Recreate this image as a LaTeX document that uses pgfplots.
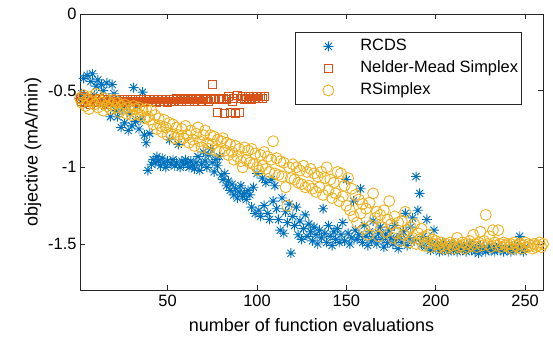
\documentclass[border=0pt]{standalone}
\usepackage{pgfplots}
\pgfplotsset{compat=1.18}
\usepackage{fontspec}
\setmainfont{Liberation Sans}
\definecolor{mblue}{rgb}{0,0.447,0.741}
\definecolor{morange}{rgb}{0.85,0.325,0.098}
\definecolor{myellow}{rgb}{0.929,0.694,0.125}
\definecolor{axgray}{rgb}{0.15,0.15,0.15}
\pgfdeclareplotmark{mstar}{%
 \pgfpathmoveto{\pgfqpoint{-\pgfplotmarksize}{0pt}}\pgfpathlineto{\pgfqpoint{\pgfplotmarksize}{0pt}}%
 \pgfpathmoveto{\pgfqpoint{0pt}{-\pgfplotmarksize}}\pgfpathlineto{\pgfqpoint{0pt}{\pgfplotmarksize}}%
 \pgfpathmoveto{\pgfqpoint{-0.7071\pgfplotmarksize}{-0.7071\pgfplotmarksize}}\pgfpathlineto{\pgfqpoint{0.7071\pgfplotmarksize}{0.7071\pgfplotmarksize}}%
 \pgfpathmoveto{\pgfqpoint{-0.7071\pgfplotmarksize}{0.7071\pgfplotmarksize}}\pgfpathlineto{\pgfqpoint{0.7071\pgfplotmarksize}{-0.7071\pgfplotmarksize}}%
 \pgfusepathqstroke}
\begin{document}
\begin{tikzpicture}
\begin{axis}[name=ax,
  scale only axis, width=463bp, height=276bp,
  xmin=1, xmax=260, ymin=-1.8, ymax=0,
  font=\fontsize{16.4bp}{19bp}\selectfont,
  /pgf/number format/assume math mode=true,
  xtick={50,100,150,200,250},
  ytick={-1.5,-1,-0.5,0}, yticklabels={-1.5,-1,-0.5,0},
  tick align=inside, major tick length=5bp,
  axis line style={axgray, line width=0.8bp},
  every tick/.style={axgray, line width=0.8bp},
  tick label style={text=black},
  xticklabel style={yshift=-2bp},
  xlabel={number of function evaluations},
  ylabel={objective (mA/min)},
  label style={font=\fontsize{18bp}{21bp}\selectfont},
  xlabel style={yshift=-4bp},
  legend cell align=left,
  legend image code/.code={\path[draw=none] (0bp,0bp) -- (61.5bp,0bp); \draw[#1] plot coordinates {(29.5bp,0bp)};},
  legend style={at={(rel axis cs:0,1)}, anchor=north west, xshift=215bp, yshift=-18bp,
    draw=axgray, line width=0.8bp, fill=white, inner xsep=3.5bp, inner ysep=3bp, row sep=0pt, column sep=0pt,
    nodes={inner sep=0pt, minimum height=22bp, text height=12bp, text depth=3bp}},
]
\addplot[only marks, mark=mstar, mark size=5bp, mblue, line width=0.9bp] coordinates {
(1,-0.55) (2,-0.52) (3,-0.42) (4,-0.58) (5,-0.40) (6,-0.56) (7,-0.44) (8,-0.39) (9,-0.53) (10,-0.47)
(11,-0.43) (12,-0.58) (13,-0.46) (14,-0.50) (15,-0.60) (16,-0.45) (17,-0.55) (18,-0.67) (19,-0.46) (20,-0.52)
(21,-0.63) (22,-0.67) (23,-0.57) (24,-0.74) (25,-0.62) (26,-0.71) (27,-0.59) (28,-0.76) (29,-0.65) (30,-0.73)
(31,-0.48) (32,-0.70) (33,-0.60) (34,-0.75) (35,-0.69) (36,-0.51) (37,-0.79) (38,-0.84) (39,-1.02) (40,-0.78)
(41,-0.98) (42,-0.95) (43,-0.97) (44,-0.93) (45,-0.96) (46,-0.99) (47,-0.94) (48,-0.97) (49,-1.00) (50,-0.96)
(51,-0.82) (52,-0.98) (53,-0.95) (54,-0.99) (55,-0.97) (56,-0.85) (57,-1.00) (58,-0.96) (59,-0.98) (60,-0.95)
(61,-0.97) (62,-1.00) (63,-0.96) (64,-0.99) (65,-1.01) (66,-0.97) (67,-0.93) (68,-1.02) (69,-0.98) (70,-0.90)
(71,-0.96) (72,-1.00) (73,-0.92) (74,-0.88) (75,-0.97) (76,-1.03) (77,-0.95) (78,-0.99) (79,-0.93) (80,-1.05)
(81,-1.08) (82,-1.04) (83,-1.12) (84,-1.09) (85,-1.15) (86,-1.11) (87,-1.18) (88,-1.14) (89,-1.20) (90,-1.16)
(91,-1.12) (92,-1.19) (93,-1.17) (94,-1.21) (95,-1.15) (96,-1.18) (97,-1.26) (98,-1.13) (99,-1.30) (100,-1.04)
(101,-1.28) (102,-1.32) (103,-1.07) (104,-1.25) (105,-1.10) (106,-1.30) (107,-1.34) (108,-1.08) (109,-1.22) (110,-1.12)
(111,-1.27) (112,-1.34) (113,-1.41) (114,-1.20) (115,-1.43) (116,-1.29) (117,-1.36) (118,-1.24) (119,-1.56) (120,-1.32)
(121,-1.38) (122,-1.26) (123,-1.44) (124,-1.35) (125,-1.47) (126,-1.40) (127,-1.31) (128,-1.45) (129,-1.37) (130,-1.42)
(131,-1.48) (132,-1.39) (133,-1.44) (134,-1.50) (135,-1.41) (136,-1.46) (137,-1.27) (138,-1.43) (139,-1.49) (140,-1.38)
(141,-1.45) (142,-1.51) (143,-1.42) (144,-1.47) (145,-1.40) (146,-1.49) (147,-1.44) (148,-1.36) (149,-1.48) (150,-1.08)
(151,-1.43) (152,-1.50) (153,-1.46) (154,-1.22) (155,-1.41) (156,-1.47) (157,-1.44) (158,-1.14) (159,-1.49) (160,-1.38)
(161,-1.45) (162,-1.51) (163,-1.42) (164,-1.48) (165,-1.35) (166,-1.46) (167,-1.50) (168,-1.43) (169,-1.39) (170,-1.47)
(171,-1.52) (172,-1.44) (173,-1.49) (174,-1.41) (175,-1.46) (176,-1.50) (177,-1.38) (178,-1.47) (179,-1.53) (180,-1.45)
(181,-1.49) (182,-1.42) (183,-1.30) (184,-1.51) (185,-1.46) (186,-1.39) (187,-1.33) (188,-1.48) (189,-1.06) (190,-1.28)
(191,-1.17) (192,-1.50) (193,-1.45) (194,-1.52) (195,-1.34) (196,-1.48) (197,-1.54) (198,-1.50) (199,-1.41) (200,-1.53)
(201,-1.51) (202,-1.55) (203,-1.52) (204,-1.49) (205,-1.54) (206,-1.51) (207,-1.55) (208,-1.53) (209,-1.50) (210,-1.54)
(211,-1.52) (212,-1.55) (213,-1.53) (214,-1.51) (215,-1.54) (216,-1.52) (217,-1.55) (218,-1.53) (219,-1.50) (220,-1.54)
(221,-1.52) (222,-1.55) (223,-1.53) (224,-1.56) (225,-1.51) (226,-1.54) (227,-1.52) (228,-1.55) (229,-1.53) (230,-1.51)
(231,-1.54) (232,-1.52) (233,-1.55) (234,-1.53) (235,-1.51) (236,-1.54) (237,-1.52) (238,-1.55) (239,-1.53) (240,-1.54)
(241,-1.52) (242,-1.55) (243,-1.53) (244,-1.51) (245,-1.54) (246,-1.52) (247,-1.45) (248,-1.53) (249,-1.55) (250,-1.52)
};
\addlegendentry{RCDS}
\addplot[only marks, mark=square, mark size=4bp, morange, line width=0.9bp] coordinates {
(1,-0.55) (2,-0.57) (3,-0.54) (4,-0.58) (5,-0.56) (6,-0.55) (7,-0.59) (8,-0.57) (9,-0.56) (10,-0.58)
(11,-0.57) (12,-0.55) (13,-0.58) (14,-0.56) (15,-0.57) (16,-0.59) (17,-0.56) (18,-0.58) (19,-0.57) (20,-0.56)
(21,-0.58) (22,-0.57) (23,-0.56) (24,-0.58) (25,-0.57) (26,-0.56) (27,-0.58) (28,-0.57) (29,-0.56) (30,-0.57)
(31,-0.57) (32,-0.56) (33,-0.58) (34,-0.57) (35,-0.56) (36,-0.57) (37,-0.58) (38,-0.56) (39,-0.57) (40,-0.56)
(41,-0.57) (42,-0.56) (43,-0.57) (44,-0.58) (45,-0.56) (46,-0.57) (47,-0.56) (48,-0.57) (49,-0.56) (50,-0.58)
(51,-0.56) (52,-0.57) (53,-0.56) (54,-0.57) (55,-0.55) (56,-0.57) (57,-0.56) (58,-0.57) (59,-0.56) (60,-0.55)
(61,-0.56) (62,-0.57) (63,-0.55) (64,-0.56) (65,-0.57) (66,-0.56) (67,-0.55) (68,-0.56) (69,-0.57) (70,-0.55)
(71,-0.56) (72,-0.55) (73,-0.57) (74,-0.56) (75,-0.46) (76,-0.55) (77,-0.56) (78,-0.64) (79,-0.55) (80,-0.56)
(81,-0.55) (82,-0.65) (83,-0.56) (84,-0.54) (85,-0.64) (86,-0.57) (87,-0.55) (88,-0.65) (89,-0.53) (90,-0.64)
(91,-0.55) (92,-0.54) (93,-0.56) (94,-0.55) (95,-0.54) (96,-0.55) (97,-0.56) (98,-0.54) (99,-0.55) (100,-0.54)
(101,-0.55) (102,-0.54) (103,-0.55) (104,-0.54)
};
\addlegendentry{Nelder-Mead Simplex}
\addplot[only marks, mark=o, mark size=5.5bp, myellow, line width=0.9bp] coordinates {
(1,-0.55) (2,-0.58) (3,-0.53) (4,-0.60) (5,-0.56) (6,-0.62) (7,-0.54) (8,-0.57) (9,-0.59) (10,-0.52)
(11,-0.61) (12,-0.56) (13,-0.58) (14,-0.63) (15,-0.55) (16,-0.60) (17,-0.57) (18,-0.62) (19,-0.59) (20,-0.56)
(21,-0.61) (22,-0.58) (23,-0.64) (24,-0.60) (25,-0.62) (26,-0.59) (27,-0.65) (28,-0.61) (29,-0.63) (30,-0.66)
(31,-0.60) (32,-0.62) (33,-0.65) (34,-0.61) (35,-0.66) (36,-0.63) (37,-0.68) (38,-0.62) (39,-0.67) (40,-0.69)
(41,-0.63) (42,-0.72) (43,-0.66) (44,-0.75) (45,-0.68) (46,-0.73) (47,-0.77) (48,-0.69) (49,-0.74) (50,-0.79)
(51,-0.71) (52,-0.78) (53,-0.72) (54,-0.81) (55,-0.74) (56,-0.79) (57,-0.83) (58,-0.75) (59,-0.81) (60,-0.73)
(61,-0.79) (62,-0.84) (63,-0.76) (64,-0.82) (65,-0.86) (66,-0.78) (67,-0.74) (68,-0.83) (69,-0.87) (70,-0.79)
(71,-0.76) (72,-0.84) (73,-0.88) (74,-0.79) (75,-0.85) (76,-0.80) (77,-0.89) (78,-0.82) (79,-0.90) (80,-0.83)
(81,-0.81) (82,-0.89) (83,-0.84) (84,-0.92) (85,-0.85) (86,-0.90) (87,-0.95) (88,-0.86) (89,-0.93) (90,-0.88)
(91,-0.96) (92,-1.00) (93,-0.87) (94,-0.95) (95,-0.89) (96,-0.97) (97,-0.88) (98,-0.98) (99,-0.91) (100,-1.00)
(101,-1.02) (102,-0.92) (103,-0.99) (104,-0.90) (105,-1.01) (106,-0.93) (107,-1.03) (108,-0.95) (109,-0.83) (110,-1.04)
(111,-0.94) (112,-1.05) (113,-0.96) (114,-1.06) (115,-0.97) (116,-1.13) (117,-1.25) (118,-1.00) (119,-1.07) (120,-0.98)
(121,-1.08) (122,-1.00) (123,-1.10) (124,-1.02) (125,-1.11) (126,-0.99) (127,-1.13) (128,-1.03) (129,-1.12) (130,-1.01)
(131,-1.14) (132,-1.04) (133,-1.16) (134,-1.06) (135,-1.13) (136,-1.03) (137,-1.18) (138,-1.07) (139,-1.00) (140,-1.15)
(141,-1.08) (142,-1.20) (143,-1.10) (144,-1.17) (145,-1.03) (146,-1.22) (147,-1.04) (148,-1.19) (149,-1.12) (150,-1.25)
(151,-1.07) (152,-1.28) (153,-1.14) (154,-1.32) (155,-1.18) (156,-1.36) (157,-1.21) (158,-1.30) (159,-1.24) (160,-1.40)
(161,-1.27) (162,-1.44) (163,-1.23) (164,-1.38) (165,-1.17) (166,-1.33) (167,-1.29) (168,-1.45) (169,-1.31) (170,-1.39)
(171,-1.28) (172,-1.42) (173,-1.34) (174,-1.22) (175,-1.37) (176,-1.46) (177,-1.32) (178,-1.43) (179,-1.36) (180,-1.48)
(181,-1.35) (182,-1.44) (183,-1.29) (184,-1.41) (185,-1.49) (186,-1.39) (187,-1.46) (188,-1.37) (189,-1.50) (190,-1.43)
(191,-1.47) (192,-1.40) (193,-1.51) (194,-1.45) (195,-1.49) (196,-1.44) (197,-1.52) (198,-1.47) (199,-1.50) (200,-1.48)
(201,-1.50) (202,-1.52) (203,-1.49) (204,-1.51) (205,-1.53) (206,-1.50) (207,-1.52) (208,-1.49) (209,-1.51) (210,-1.53)
(211,-1.50) (212,-1.46) (213,-1.52) (214,-1.51) (215,-1.49) (216,-1.53) (217,-1.50) (218,-1.52) (219,-1.48) (220,-1.51)
(221,-1.44) (222,-1.50) (223,-1.52) (224,-1.49) (225,-1.42) (226,-1.51) (227,-1.48) (228,-1.31) (229,-1.50) (230,-1.45)
(231,-1.52) (232,-1.41) (233,-1.49) (234,-1.51) (235,-1.41) (236,-1.50) (237,-1.52) (238,-1.49) (239,-1.51) (240,-1.50)
(241,-1.52) (242,-1.50) (243,-1.53) (244,-1.49) (245,-1.51) (246,-1.52) (247,-1.50) (248,-1.53) (249,-1.51) (250,-1.49)
(251,-1.52) (252,-1.50) (253,-1.51) (254,-1.53) (255,-1.50) (256,-1.52) (257,-1.51) (258,-1.49) (259,-1.52) (260,-1.50)
};
\addlegendentry{RSimplex}
\end{axis}
\path (ax.south west) ++(-80bp,-51bp) coordinate (bbA);
\path (ax.north east) ++(10bp,14bp) coordinate (bbB);
\pgfresetboundingbox
\useasboundingbox (bbA) rectangle (bbB);
\end{tikzpicture}
\end{document}
